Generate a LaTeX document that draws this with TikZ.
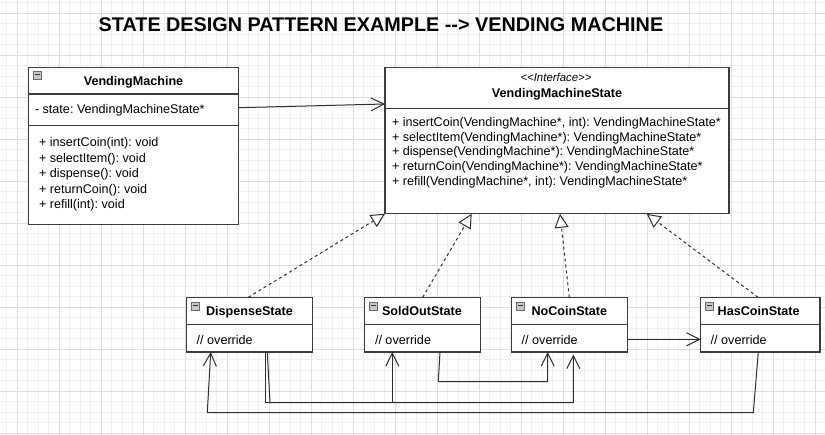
\documentclass[tikz,border=0pt]{standalone}
\usepackage{fontspec}
\setmainfont{Liberation Sans}
\frenchspacing
\usetikzlibrary{arrows.meta,calc}
\definecolor{gridminor}{HTML}{F0F0F0}
\definecolor{gridmajor}{HTML}{DEDEDE}
\definecolor{boxline}{HTML}{3C3C3C}
\definecolor{connline}{HTML}{2E2E2E}
\definecolor{iconfill}{HTML}{C8C8C8}
\definecolor{iconline}{HTML}{6A6A6A}
\begin{document}
\begin{tikzpicture}[x=1pt,y=-1pt,
  classbox/.style={draw=boxline, line width=1.2pt, fill=white, inner sep=0pt, outer sep=0pt, anchor=north west},
  sepline/.style={draw=boxline, line width=1.2pt},
  txt/.style={inner sep=0pt, outer sep=0pt, font=\fontsize{12.6}{15}\selectfont},
  btxt/.style={txt, font=\fontsize{12.6}{15}\selectfont\bfseries},
  iconbox/.style={draw=iconline, fill=iconfill, line width=0.6pt, minimum width=8.5pt, minimum height=7.5pt, inner sep=0pt, outer sep=0pt, anchor=north west,
    path picture={\draw[line width=0.9pt, black!80] ([xshift=1.8pt,yshift=1pt]path picture bounding box.west) -- ([xshift=-1.8pt,yshift=1pt]path picture bounding box.east);}},
  conn/.style={draw=connline, line width=1pt, -{Straight Barb[length=13pt,width=13pt]}},
  assoc/.style={draw=connline, line width=1pt, -{Straight Barb[length=13pt,width=13pt]}},
  realize/.style={draw=connline, line width=1pt, dash pattern=on 3pt off 3pt, -{Triangle[length=14pt,width=14pt,fill=white]}}
]
\useasboundingbox (0,0) rectangle (825,435);
\fill[white] (0,0) rectangle (825,435);
% grid
\foreach \i in {0,...,78} {
  \draw[gridminor, line width=0.8pt] ({6.8+10.5*\i},0) -- ({6.8+10.5*\i},435);
}
\foreach \i in {0,...,41} {
  \draw[gridminor, line width=0.8pt] (0,{2.8+10.5*\i}) -- (825,{2.8+10.5*\i});
}
\foreach \i in {0,...,19} {
  \draw[gridmajor, line width=0.8pt] ({17.3+42*\i},0) -- ({17.3+42*\i},435);
}
\foreach \i in {0,...,10} {
  \draw[gridmajor, line width=0.8pt] (0,{13.3+42*\i}) -- (825,{13.3+42*\i});
}

% title
\node[inner sep=0pt, anchor=base, font=\fontsize{19.8}{22}\selectfont\bfseries] (title) at (381,31.5) {STATE DESIGN PATTERN EXAMPLE {-}{-}> VENDING MACHINE};

% VendingMachine
\node[classbox, minimum width=210.4pt, minimum height=157pt] (vm) at (28.3,67.3) {};
\draw[sepline] ($(vm.north west)+(0,26.7)$) -- ($(vm.north east)+(0,26.7)$);
\draw[sepline] ($(vm.north west)+(0,58)$) -- ($(vm.north east)+(0,58)$);
\node[iconbox] (vmicon) at (33,71.5) {};
\node[btxt, anchor=base] (vmname) at (133.5,85.5) {VendingMachine};
\node[txt, anchor=base west] (vmattr) at (35,113.5) {- state: VendingMachineState*};
\node[txt, anchor=north west, align=left, font=\fontsize{12.6}{15.5}\selectfont] (vmops) at (39,137.5)
  {+ insertCoin(int): void\\+ selectItem(): void\\+ dispense(): void\\+ returnCoin(): void\\+ refill(int): void};

% VendingMachineState interface
\node[classbox, minimum width=344pt, minimum height=146pt] (ifc) at (385,67.3) {};
\draw[sepline] ($(ifc.north west)+(0,41)$) -- ($(ifc.north east)+(0,41)$);
\node[txt, anchor=base, font=\fontsize{11.4}{14}\selectfont\itshape] (ifcst) at (556,81.5) {<{}<Interface>{}>};
\node[btxt, anchor=base] (ifcname) at (557,97.5) {VendingMachineState};
\node[txt, anchor=north west, align=left, font=\fontsize{12.6}{14.6}\selectfont] (ifcops) at (392,117.5)
  {+ insertCoin(VendingMachine*, int): VendingMachineState*\\
   + selectItem(VendingMachine*): VendingMachineState*\\
   + dispense(VendingMachine*): VendingMachineState*\\
   + returnCoin(VendingMachine*): VendingMachineState*\\
   + refill(VendingMachine*, int): VendingMachineState*};

% state classes
\node[classbox, minimum width=125.6pt, minimum height=54.7pt] (disp) at (186.7,297.3) {};
\node[classbox, minimum width=116pt, minimum height=54.7pt] (sold) at (364.3,297.3) {};
\node[classbox, minimum width=115.6pt, minimum height=54.7pt] (noc) at (511.7,297.3) {};
\node[classbox, minimum width=119.3pt, minimum height=54.7pt] (has) at (700.7,297.3) {};
\foreach \b in {disp,sold,noc,has} {
  \draw[sepline] ($(\b.north west)+(0,27.4)$) -- ($(\b.north east)+(0,27.4)$);
}
\node[iconbox] (dispicon) at (191.2,302.8) {};
\node[iconbox] (soldicon) at (368.8,302.8) {};
\node[iconbox] (nocicon) at (516.2,302.8) {};
\node[iconbox] (hasicon) at (705.2,302.8) {};
\node[btxt, anchor=base west] (dispname) at (206,316) {DispenseState};
\node[btxt, anchor=base west] (soldname) at (382,316) {SoldOutState};
\node[btxt, anchor=base west] (nocname) at (531.5,316) {NoCoinState};
\node[btxt, anchor=base west] (hasname) at (717.7,316) {HasCoinState};
\node[txt, anchor=base west] (dispov) at (196.7,344.5) {// override};
\node[txt, anchor=base west] (soldov) at (375,344.5) {// override};
\node[txt, anchor=base west] (nocov) at (521.7,344.5) {// override};
\node[txt, anchor=base west] (hasov) at (710.7,344.5) {// override};

% association
\draw[assoc] ($(vm.north east)+(0,40.4)$) -- ($(ifc.north west)+(0,36.7)$);

% realizations
\draw[realize] ($(disp.north west)+(61.6,0)$) -- ($(ifc.south west)+(0,0.5)$);
\draw[realize] ($(sold.north west)+(58.4,0)$) -- ($(ifc.south west)+(86.7,0.5)$);
\draw[realize] ($(noc.north west)+(57.6,0)$) -- ($(ifc.south west)+(175,0.5)$);
\draw[realize] ($(has.north west)+(57.3,0)$) -- ($(ifc.south west)+(261.7,0.5)$);

% transitions
\draw[conn] ($(has.south west)+(57.6,0)$) -- ++(-5,60.7) -- ($(disp.south west)+(20.6,60.7)$) -- ($(disp.south west)+(24,0)$);
\draw[conn] ($(disp.south west)+(78.3,0)$) -- ++(0,50.7) -| ($(sold.south west)+(28,0)$);
\draw[conn] ($(disp.south west)+(80.6,0)$) -- ++(2.7,50.7) -| ($(noc.south west)+(61.6,2.5)$);
\draw[conn] ($(sold.south west)+(75.7,0)$) -- ++(-1.7,29.7) -| ($(noc.south west)+(36,0)$);
\draw[conn] ($(noc.south east)+(0,-12.7)$) -- ($(has.south west)+(0,-12.7)$);
\end{tikzpicture}
\end{document}
